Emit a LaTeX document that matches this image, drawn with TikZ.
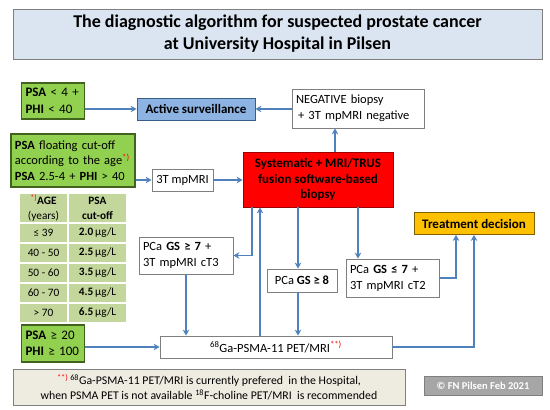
\documentclass[tikz,border=0pt]{standalone}
\usepackage{fontspec}
\setmainfont{Carlito}
\usepackage{tikz}
\usetikzlibrary{arrows.meta,positioning,calc}
\usepackage{xcolor}
\definecolor{ArrowBlue}{HTML}{4F81BD}
\definecolor{LeafGreen}{HTML}{92D050}
\definecolor{GreenEdge}{HTML}{41631F}
\definecolor{TableGreen}{HTML}{C3D69B}
\definecolor{SkyBlue}{HTML}{8DB3E2}
\definecolor{SkyEdge}{HTML}{385D8A}
\definecolor{TitleBlue}{HTML}{DBE5F1}
\definecolor{LineGray}{HTML}{7F7F7F}
\definecolor{Amber}{HTML}{FFC000}
\definecolor{AmberEdge}{HTML}{7F6000}
\definecolor{Sand}{HTML}{EEECE1}
\definecolor{Stone}{HTML}{A6A6A6}
\definecolor{DarkRed}{HTML}{A00000}

\begin{document}
\begin{tikzpicture}[x=1pt,y=-1pt,
  box/.style={draw=LineGray,fill=white,line width=0.8pt,inner sep=0pt,font=\fontsize{12.5}{16}\selectfont},
  gbox/.style={draw=GreenEdge,fill=LeafGreen,line width=1.2pt,inner xsep=4pt,inner ysep=0pt,align=left,font=\fontsize{13}{16.5}\selectfont},
  cell/.style={draw=white,fill=TableGreen,line width=1.5pt,inner sep=0pt,minimum height=20pt,font=\fontsize{11.3}{15}\selectfont,align=center},
  link/.style={draw=ArrowBlue,line width=1.4pt,-{Stealth[length=6pt,width=6.5pt]}}]
  \useasboundingbox (0,0) rectangle (550,410);

  \node[draw=LineGray,fill=TitleBlue,line width=1pt,minimum width=529pt,minimum height=50pt,align=center,
        font=\fontsize{18}{22}\selectfont\bfseries] (title) at (277.5,34)
        {The diagnostic algorithm for suspected prostate cancer\\at University Hospital in Pilsen};

  \node[gbox,text width=55pt,minimum height=36pt] (psaLow) at (53,101) {\textbf{PSA} < 4 +\\\textbf{PHI} < 40};
  \node[gbox,text width=116pt,minimum height=53pt,font=\fontsize{12.5}{15.5}\selectfont] (psaAge) at (73,160.5)
        {\textbf{PSA} floating cut-off\\according to the age\textcolor{red}{\textsuperscript{*)}}\\\textbf{PSA} 2.5-4 + \textbf{PHI} > 40};
  \node[gbox,text width=55pt,minimum height=37pt] (psaHigh) at (53,343.5) {\textbf{PSA} ≥ 20\\\textbf{PHI} ≥ 100};

  \node[box,draw=SkyEdge,fill=SkyBlue,minimum width=118pt,minimum height=22pt,font=\fontsize{13}{15}\selectfont\bfseries] (active) at (196,109) {Active surveillance};
  \node[box,text width=124pt,inner xsep=4pt,minimum height=39pt,align=left] (neg) at (358,108.5) {NEGATIVE biopsy\\\,+ 3T mpMRI negative};
  \node[box,minimum width=61pt,minimum height=22pt] (mri) at (182.5,180) {3T mpMRI};
  \node[box,draw=DarkRed,fill=red,minimum width=150pt,minimum height=55pt,align=center,
        font=\fontsize{13}{15.5}\selectfont\bfseries] (biopsy) at (318,179.5)
        {Systematic + MRI/TRUS\\fusion software-based\\biopsy};
  \node[box,draw=AmberEdge,fill=Amber,minimum width=120pt,minimum height=22pt,font=\fontsize{13}{15}\selectfont\bfseries] (treat) at (474,223.5) {Treatment decision};

  \node[box,text width=86pt,inner xsep=4pt,minimum height=37pt,align=left] (cT3) at (186,255.5) {PCa \textbf{GS ≥ 7} +\\3T mpMRI cT3};
  \node[box,minimum width=70pt,minimum height=23pt] (gs8) at (302,280.5) {PCa \textbf{GS ≥ 8}};
  \node[box,text width=85pt,inner xsep=4pt,minimum height=38pt,align=left] (cT2) at (392.5,278) {PCa \textbf{GS ≤ 7} +\\3T mpMRI cT2};
  \node[box,minimum width=232pt,minimum height=22pt] (pet) at (276,347) {\textsuperscript{68}Ga-PSMA-11 PET/MRI\textcolor{red}{\textsuperscript{**)}}};

  \node[cell,minimum width=49pt,minimum height=30pt] (ageHead) at (43.5,208)
        {\textcolor{red}{\textsuperscript{*)}}\textbf{AGE}\\(years)};
  \node[cell,minimum width=59pt,minimum height=30pt] (cutHead) at (97.5,208) {\textbf{PSA}\\\textbf{cut-off}};
  \foreach \age/\cut [count=\r] in {≤ 39/2.0, 40 - 50/2.5, 50 - 60/3.5, 60 - 70/4.5, > 70/6.5}{
    \node[cell,minimum width=49pt] (age\r) at (43.5,213+20*\r) {\age};
    \node[cell,minimum width=59pt] (cut\r) at (97.5,213+20*\r) {\textbf{\cut}\,µg/L};
  }

  \node[draw=LineGray,fill=Sand,line width=1pt,minimum width=392pt,minimum height=36pt,align=center,
        font=\fontsize{11.8}{15}\selectfont] (note) at (209,387)
        {\textcolor{red}{\textsuperscript{**)}}\,\textsuperscript{68}Ga-PSMA-11 PET/MRI is currently prefered \ in the Hospital,\\
         when PSMA PET is not available \textsuperscript{18}F-choline PET/MRI \ is recommended};
  \node[draw=LineGray,fill=Stone,line width=1pt,minimum width=118pt,minimum height=19pt,inner sep=0pt,
        text=white,font=\fontsize{10.5}{12}\selectfont\bfseries] (copy) at (483,385.5) {© FN Pilsen Feb 2021};

  \coordinate (colB) at (252,0);
  \coordinate (colC) at (260,0);
  \coordinate (colD) at (298,0);
  \coordinate (colE) at (335,0);
  \coordinate (colF) at (358,0);
  \coordinate (colG) at (456,0);

  \draw[link] (psaLow.east |- active.west) -- (active.west);
  \draw[link] (neg.west |- active.east) -- (active.east);
  \draw[link] (biopsy.north -| colE) -- (neg.south -| colE);
  \draw[link] (psaAge.east |- mri.west) -- (mri.west);
  \draw[link] (mri.east) -- (mri.east -| biopsy.west);
  \draw[link] (biopsy.south -| colB) |- (cT3.east);
  \draw[link] (pet.north -| colC) -- (biopsy.south -| colC);
  \draw[link] (biopsy.south -| colD) -- (gs8.north -| colD);
  \draw[link] (gs8.south -| colD) -- (pet.north -| colD);
  \draw[link] (biopsy.south -| colF) -- (cT2.north -| colF);
  \draw[link] (cT2.east) -| (treat.south -| colG);
  \draw[link] (pet.east) -| (treat.south);
  \draw[link] (cT3.south) -- (cT3.south |- pet.north);
  \draw[link] (psaHigh.east |- pet.west) -- (pet.west);
\end{tikzpicture}
\end{document}
